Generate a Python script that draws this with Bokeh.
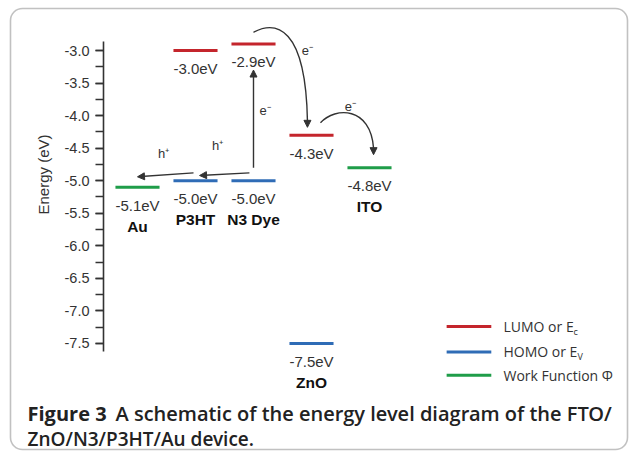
import math
from bokeh.plotting import figure
from bokeh.models import (Range1d, LinearAxis, SingleIntervalTicker, PrintfTickFormatter,
                          Label, Arrow, NormalHead, BoxAnnotation, ColumnDataSource)
from bokeh.core.properties import value
from bokeh.embed import file_html
from bokeh.resources import INLINE

# ---------------- data ----------------
materials = ["Au", "P3HT", "N3 Dye", "ZnO", "ITO"]
lumo = [None, -3.0, -2.9, -4.3, None]          # LUMO or Ec (eV)
homo = [None, -5.0, -5.0, -7.5, None]          # HOMO or Ev (eV)
work_function = [-5.1, None, None, None, -4.8]  # work function (eV)
legend_labels = ["LUMO or E", "HOMO or E", "Work Function \u03a6"]
legend_subs = ["c", "V", ""]
caption_bold = "Figure 3"
caption_rest = "A schematic of the energy level diagram of the FTO/"
caption_line2 = "ZnO/N3/P3HT/Au device."

# ---------------- style / layout ----------------
RED, BLUE, GREEN = "#c4252c", "#2f6cb6", "#1f9d49"
DARK = "#333333"
cols = {m: i + 1 for i, m in enumerate(materials)}
HALF = 0.38
LBL_FONT = value("Liberation Sans")

p = figure(width=630, height=453, output_backend="svg", toolbar_location=None,
           x_axis_location=None, y_axis_location=None,
           x_range=Range1d(-1.362, 9.500), y_range=Range1d(-9.190, -2.232),
           min_border_left=0, min_border_right=0, min_border_top=0, min_border_bottom=0)
p.outline_line_color = None
p.grid.visible = False
p.background_fill_color = "white"
p.border_fill_color = "white"

yaxis = LinearAxis(ticker=SingleIntervalTicker(interval=0.5, num_minor_ticks=2),
                   formatter=PrintfTickFormatter(format="%.1f"),
                   bounds=(-7.62, -2.86), fixed_location=0.414)
yaxis.axis_line_color = DARK
yaxis.axis_line_width = 1.6
yaxis.major_tick_line_color = DARK
yaxis.minor_tick_line_color = DARK
yaxis.major_tick_line_width = 1.4
yaxis.minor_tick_line_width = 1.4
yaxis.major_tick_out = 8
yaxis.major_tick_in = 0
yaxis.minor_tick_out = 8
yaxis.minor_tick_in = 0
yaxis.major_label_text_font = "Liberation Sans"
yaxis.major_label_text_font_size = "14.5px"
yaxis.major_label_text_color = DARK
yaxis.major_label_standoff = 6
p.add_layout(yaxis, "left")

# ---------------- levels ----------------
def levels(vals, color):
    xs0, xs1, ys, xc = [], [], [], []
    for m, v in zip(materials, vals):
        if v is None:
            continue
        c = cols[m]
        xs0.append(c - HALF); xs1.append(c + HALF); ys.append(v); xc.append(c)
    src = ColumnDataSource(dict(x0=xs0, x1=xs1, y=ys, xc=xc,
                                t=["%.1feV" % v for v in ys]))
    p.segment(x0="x0", y0="y", x1="x1", y1="y", source=src, line_color=color, line_width=3)
    p.text(x="xc", y="y", text="t", source=src, y_offset=18, text_align="center",
           text_baseline="middle", text_font=LBL_FONT, text_font_size="15px", text_color=DARK)

levels(lumo, RED)
levels(homo, BLUE)
levels(work_function, GREEN)

# material names (below the lowest level of each column)
nx, ny = [], []
for m, a, b, c in zip(materials, lumo, homo, work_function):
    vs = [v for v in (a, b, c) if v is not None]
    nx.append(cols[m]); ny.append(min(vs))
p.text(x=nx, y=ny, text=materials, y_offset=39, text_align="center", text_baseline="middle",
       text_font=LBL_FONT, text_font_size="15.5px", text_font_style="bold", text_color="#111111")

# ---------------- arrows ----------------
def head():
    return NormalHead(size=7, fill_color=DARK, line_color=DARK)

xA, xP, xN, xZ, xI = (cols[m] for m in materials)
hN, lN, lP, hP = homo[2], lumo[2], lumo[1], homo[1]
lZ, wI, wA = lumo[3], work_function[4], work_function[0]

# photo-excitation in N3 dye
p.add_layout(Arrow(end=head(), x_start=xN, y_start=hN + 0.2, x_end=xN, y_end=lN - 0.4,
                   line_color=DARK, line_width=1.4))
# hole transfer N3 -> P3HT -> Au
p.add_layout(Arrow(end=head(), x_start=xN - 0.07, y_start=hN + 0.12, x_end=xP + 0.07,
                   y_end=hP + 0.08, line_color=DARK, line_width=1.4))
p.add_layout(Arrow(end=head(), x_start=xP - 0.034, y_start=hP + 0.12, x_end=xA,
                   y_end=wA + 0.16, line_color=DARK, line_width=1.4))
# electron injection N3 -> ZnO (curved)
p.bezier(x0=[xN], y0=[lN + 0.18], x1=[xZ - 0.07], y1=[lZ + 0.22],
         cx0=[xN + 0.38], cy0=[lN + 0.36], cx1=[xZ - 0.1], cy1=[lN + 0.28],
         line_color=DARK, line_width=1.4)
p.add_layout(Arrow(end=head(), x_start=xZ - 0.07, y_start=lZ + 0.22, x_end=xZ - 0.07,
                   y_end=lZ + 0.12, line_color=DARK, line_width=1.4))
# electron transfer ZnO -> ITO (curved)
p.bezier(x0=[xZ + 0.155], y0=[lZ + 0.19], x1=[xI + 0.07], y1=[wI + 0.3],
         cx0=[xZ + 0.414], cy0=[lZ + 0.44], cx1=[xI + 0.02], cy1=[lZ + 0.44],
         line_color=DARK, line_width=1.4)
p.add_layout(Arrow(end=head(), x_start=xI + 0.07, y_start=wI + 0.3, x_end=xI + 0.07,
                   y_end=wI + 0.2, line_color=DARK, line_width=1.4))

carrier_x = [xN + 0.2, xZ - 0.07, xZ + 0.67, xP + 0.38, xA + 0.45]
carrier_y = [(hN + lN) / 2 + 0.03, lN - 0.1, lZ + 0.44, hP + 0.54, hP + 0.42]
carrier_t = ["e\u207b", "e\u207b", "e\u207b", "h\u207a", "h\u207a"]
p.text(x=carrier_x, y=carrier_y, text=carrier_t, text_align="center", text_baseline="middle",
       text_font=LBL_FONT, text_font_size="13px", text_color=DARK)

# ---------------- legend ----------------
leg_y = [-7.24, -7.63, -7.99]
leg_c = [RED, BLUE, GREEN]
p.segment(x0=[6.33] * 3, y0=leg_y, x1=[7.10] * 3, y1=leg_y, line_color=leg_c, line_width=3)
p.text(x=[7.31] * 3, y=leg_y, text=legend_labels, text_baseline="middle",
       text_font=value("Open Sans"), text_font_size="14px", text_color=DARK)
p.text(x=[7.31] * 2, y=leg_y[:2], text=legend_subs[:2], x_offset=[70, 74], y_offset=5,
       text_baseline="middle", text_font=value("Open Sans"), text_font_size="9px",
       text_color=DARK)

# ---------------- axis title, caption, frame ----------------
p.add_layout(Label(x=-0.62, y=-4.905, text="Energy (eV)", angle=math.pi / 2,
                   text_align="center", text_baseline="middle",
                   text_font="Liberation Sans", text_font_size="15px", text_color=DARK))
p.add_layout(Label(x=-0.896, y=-8.576, text=caption_bold, text_font="Open Sans",
                   text_font_style="bold", text_font_size="20px", text_color="#222222",
                   text_baseline="alphabetic"))
p.add_layout(Label(x=0.621, y=-8.576, text=caption_rest, text_font="Open Sans SemiBold",
                   text_font_size="20px", text_color="#222222", text_baseline="alphabetic"))
p.add_layout(Label(x=-0.896, y=-8.96, text=caption_line2, text_font="Open Sans SemiBold",
                   text_font_size="19px", text_color="#222222", text_baseline="alphabetic"))
p.add_layout(BoxAnnotation(left=10, right=627, top=8, bottom=449,
                           left_units="canvas", right_units="canvas",
                           top_units="canvas", bottom_units="canvas",
                           fill_alpha=0, line_color=DARK, line_width=1.6,
                           border_radius=12, level="overlay"))

open("out.html", "w").write(file_html(p, INLINE))
